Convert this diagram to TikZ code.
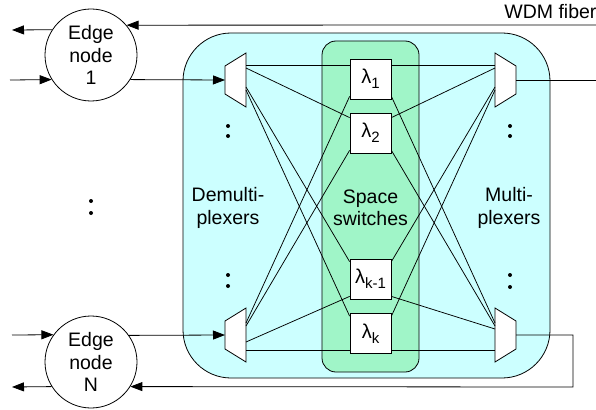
\documentclass[tikz,border=0pt]{standalone}
\usepackage{fontspec}
\setmainfont{Liberation Sans}
\usetikzlibrary{arrows.meta}
\definecolor{cyanbg}{RGB}{204,255,255}
\definecolor{greenbg}{RGB}{160,245,200}
\newcommand{\lamsub}[1]{λ\raisebox{-0.45ex}{\fontsize{15}{15}\selectfont #1}}
\begin{document}
\begin{tikzpicture}[x=1pt,y=-1pt, line width=0.8pt,
  lbl/.style={font=\fontsize{19.5}{22.5}\selectfont, align=center},
  edgenode/.style={circle, draw, fill=white, minimum size=92pt, inner sep=0pt, lbl},
  lambox/.style={draw, fill=white, minimum width=41pt, minimum height=40pt, inner sep=0pt, font=\fontsize{20}{22}\selectfont},
  arr/.style={-{Triangle[length=12pt,width=9pt]}},
  dev/.style={draw, fill=white, line join=miter},
  dotmark/.style={circle, fill, inner sep=0pt, minimum size=4pt},
  conn/.style={line width=0.75pt}
]
\useasboundingbox (0,0) rectangle (596,409);
% background boxes
\draw[fill=cyanbg, rounded corners=48pt] (183,33) rectangle (550,378);
\draw[fill=greenbg, rounded corners=14pt] (322,41) rectangle (419,372);

% edge nodes
\node[edgenode] (e1) at (91,55) {Edge\\node\\1};
\node[edgenode] (eN) at (91,362) {Edge\\node\\N};

% wavelength switches
\node[lambox] (l1) at (370.5,79) {\lamsub{1}};
\node[lambox] (l2) at (370.5,133) {\lamsub{2}};
\node[lambox] (lk1) at (370.5,279) {\lamsub{k-1}};
\node[lambox] (lk) at (370.5,333.5) {\lamsub{k}};

% demultiplexers
\draw[dev] (225,66) -- (246,53) -- (246,107) -- (225,94) -- cycle;
\draw[dev] (225,321) -- (246,308) -- (246,362) -- (225,349) -- cycle;
% multiplexers
\draw[dev] (495,53) -- (516,66) -- (516,94) -- (495,107) -- cycle;
\draw[dev] (495,308) -- (516,321) -- (516,349) -- (495,362) -- cycle;

% ports
\coordinate (d1in) at (225,80);
\coordinate (dNin) at (225,335);
\coordinate (d1p1) at (246,65);
\coordinate (d1p2) at (246,68);
\coordinate (d1p3) at (246,87);
\coordinate (d1p4) at (246,90);
\coordinate (dNp1) at (246,323);
\coordinate (dNp2) at (246,326);
\coordinate (dNp3) at (246,342);
\coordinate (dNp4) at (246,350);
\coordinate (m1p1) at (495,65);
\coordinate (m1p2) at (495,68);
\coordinate (m1p3) at (495,87);
\coordinate (m1p4) at (495,90);
\coordinate (mNp1) at (495,323);
\coordinate (mNp2) at (495,326);
\coordinate (mNp3) at (495,329);
\coordinate (mNp4) at (495,350);
\coordinate (m1out) at (516,80);
\coordinate (mNout) at (516,335);
\coordinate (fiberR) at (596,25);
\coordinate (outR) at (596,80);
\coordinate (loopA) at (573,335);
\coordinate (loopB) at (573,387);
\coordinate (in1) at (10,80);
\coordinate (out1) at (12,30);
\coordinate (inN) at (12,335);
\coordinate (outN) at (12,387);

% demux -> switches
\draw[conn] (d1p1) -- (l1.west |- d1p1);
\draw[conn] (d1p2) -- ([yshift=-5pt]l2.north west);
\draw[conn] (d1p3) -- ([yshift=-3pt]lk1.north west);
\draw[conn] (d1p4) -- ([yshift=-3pt]lk.north west);
\draw[conn] (dNp1) -- ([yshift=3pt]l1.south west);
\draw[conn] (dNp2) -- ([yshift=3pt]l2.south west);
\draw[conn] (dNp3) -- ([yshift=3pt]lk1.south west);
\draw[conn] (dNp4) -- (lk.west |- dNp4);
% switches -> mux
\draw[conn] (l1.east |- m1p1) -- (m1p1);
\draw[conn] ([yshift=-5pt]l2.north east) -- (m1p2);
\draw[conn] ([yshift=-3pt]lk1.north east) -- (m1p3);
\draw[conn] ([yshift=-3pt]lk.north east) -- (m1p4);
\draw[conn] ([yshift=3pt]l1.south east) -- (mNp1);
\draw[conn] ([yshift=3pt]l2.south east) -- (mNp2);
\draw[conn] ([yshift=3pt]lk1.south east) -- (mNp3);
\draw[conn] (lk.east |- mNp4) -- (mNp4);

% fibres and arrows
\draw[arr] (fiberR) -- (e1.40.3);
\draw[arr] (e1.147.4) -- (out1);
\draw[arr] (in1) -- (e1.212.6);
\draw[arr] (e1.-32.6) -- (d1in);
\draw[arr] (inN) -- (eN.144.4);
\draw[arr] (eN.35.6) -- (dNin);
\draw[arr] (eN.212.6) -- (outN);
\draw (m1out) -- (outR);
\draw[arr] (mNout) -- (loopA) -- (loopB) -- (eN.-32.6);

% dots
\node[dotmark] (da1) at (228,126) {};
\node[dotmark] (da2) at (228,136) {};
\node[dotmark] (da3) at (228,275) {};
\node[dotmark] (da4) at (228,286) {};
\node[dotmark] (dm1) at (91,201) {};
\node[dotmark] (dm2) at (91,213) {};
\node[dotmark] (db1) at (510,126) {};
\node[dotmark] (db2) at (510,136) {};
\node[dotmark] (db3) at (510,275) {};
\node[dotmark] (db4) at (510,287) {};

% labels
\node[lbl] (demux) at (228,208) {Demulti-\\plexers};
\node[lbl] (space) at (370.5,208) {Space\\switches};
\node[lbl] (mux) at (509,208) {Multi-\\plexers};
\node[lbl, anchor=base west, inner sep=0pt] (wdm) at (504,19) {WDM fiber};
\end{tikzpicture}
\end{document}
